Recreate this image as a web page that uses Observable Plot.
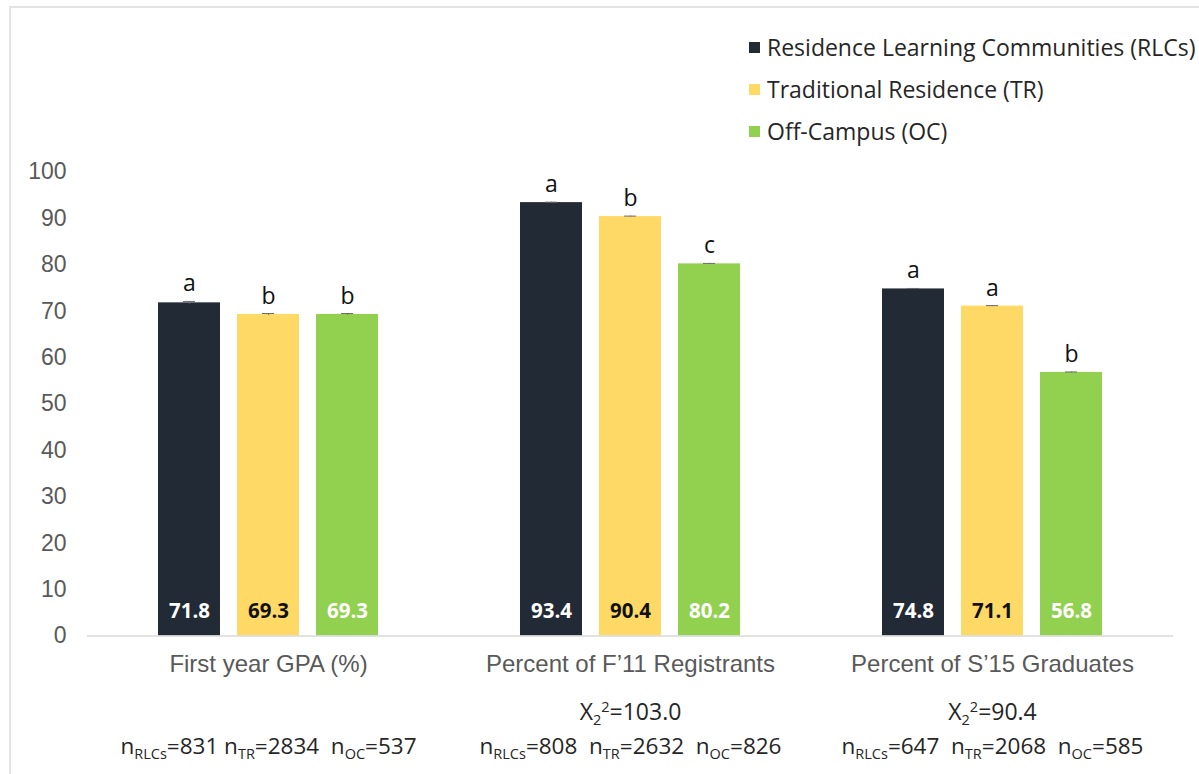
<!DOCTYPE html>
<html>
<head>
<meta charset="utf-8">
<script src="https://cdn.jsdelivr.net/npm/d3@7"></script>
<script src="https://cdn.jsdelivr.net/npm/@observablehq/plot@0.6"></script>
<style>
  html, body { margin: 0; padding: 0; background: #fff; }
  #wrap { position: relative; width: 1199px; height: 774px; overflow: hidden; background: #fff; }
  #frame { position: absolute; left: 9px; top: 6px; width: 1400px; height: 1000px;
           border-left: 2px solid #e3e3e3; border-top: 2px solid #e3e3e3; }
  #chart { position: absolute; left: 0; top: 0; }
  #legend { position: absolute; left: 749px; top: 26px; font-family: "Open Sans", sans-serif;
            font-size: 23px; color: #262626; }
  .item { display: flex; align-items: center; height: 42px; white-space: nowrap; }
  .sw { width: 11px; height: 11px; margin-right: 7px; flex: none; }
</style>
</head>
<body>
<div id="wrap">
  <div id="frame"></div>
  <div id="chart"></div>
  <div id="legend"></div>
</div>
<script>
// ---- data ----
const categories = ["First year GPA (%)", "Percent of F\u201911 Registrants", "Percent of S\u201915 Graduates"];
const series = ["Residence Learning Communities (RLCs)", "Traditional Residence (TR)", "Off-Campus (OC)"];
const seriesShort = ["RLCs", "TR", "OC"];
const colors = ["#222a35", "#ffd966", "#92d050"];

const rlcValues = [71.8, 93.4, 74.8];
const trValues  = [69.3, 90.4, 71.1];
const ocValues  = [69.3, 80.2, 56.8];

const rlcErr = [0.3, 0.1, 0.1];
const trErr  = [0.2, 0.1, 0.1];
const ocErr  = [0.2, 0.1, 0.1];

const rlcSig = ["a", "a", "a"];
const trSig  = ["b", "b", "a"];
const ocSig  = ["b", "c", "b"];

const chiSquare = [null, "103.0", "90.4"];
const nRLC = [831, 808, 647];
const nTR  = [2834, 2632, 2068];
const nOC  = [537, 826, 585];

const yTicks = [0, 10, 20, 30, 40, 50, 60, 70, 80, 90, 100];

// ---- tables ----
const valueSets = [rlcValues, trValues, ocValues];
const errSets = [rlcErr, trErr, ocErr];
const sigSets = [rlcSig, trSig, ocSig];
const rows = categories.flatMap((c, i) => series.map((s, j) => ({
  category: c, series: s, value: valueSets[j][i], err: errSets[j][i], sig: sigSets[j][i]
})));
const notes = categories.map((c, i) => ({
  category: c,
  chi: chiSquare[i] == null ? "" : `X_{2}^{2}=${chiSquare[i]}`,
  n: `n_{${seriesShort[0]}}=${nRLC[i]}${i === 0 ? " " : "  "}n_{${seriesShort[1]}}=${nTR[i]}  n_{${seriesShort[2]}}=${nOC[i]}`
}));

const openSans = "'Open Sans', sans-serif";
const arial = "'Liberation Sans', Arial, sans-serif";

const chart = Plot.plot({
  width: 1199,
  height: 774,
  marginLeft: 86,
  marginRight: 25,
  marginTop: 171.5,
  marginBottom: 138.5,
  style: { fontFamily: arial, background: "transparent", overflow: "visible" },
  fx: { domain: categories, padding: 0, label: null },
  x: { domain: series, paddingInner: 0.2125, paddingOuter: 0.87, axis: null },
  y: { domain: [0, 100], label: null },
  color: { domain: series, range: colors },
  marks: [
    Plot.axisY({ ticks: yTicks, tickSize: 0, tickPadding: 21, fontSize: 23, fill: "#595959", label: null, fontFamily: arial }),
    Plot.axisFx({ anchor: "bottom", tickSize: 0, tickPadding: 19, fontSize: 24, fill: "#595959", label: null, fontFamily: arial }),
    Plot.barY(rows, { fx: "category", x: "series", y: "value", fill: "series" }),
    Plot.ruleY([0], { stroke: "#d9d9d9", strokeWidth: 1.5 }),
    Plot.ruleX(rows, { fx: "category", x: "series", y1: d => d.value - d.err, y2: d => d.value + d.err, stroke: "#6b6b6b" }),
    Plot.tickY(rows, { fx: "category", x: "series", y: d => d.value + d.err, stroke: "#6b6b6b", insetLeft: 25, insetRight: 25 }),
    Plot.text(rows, { fx: "category", x: "series", y: d => d.value + d.err, text: "sig", lineAnchor: "bottom", dy: -10,
      fontSize: 23, fontFamily: openSans, fill: "#111" }),
    Plot.text(rows.filter(d => d.series !== series[1]), { fx: "category", x: "series", y: () => 0, text: d => d.value.toFixed(1),
      dy: -25, fontSize: 20.5, fontWeight: "bold", fontFamily: openSans, fill: "white" }),
    Plot.text(rows.filter(d => d.series === series[1]), { fx: "category", x: "series", y: () => 0, text: d => d.value.toFixed(1),
      dy: -25, fontSize: 20.5, fontWeight: "bold", fontFamily: openSans, fill: "#111" }),
    Plot.text(notes.filter(d => d.chi), { fx: "category", frameAnchor: "bottom", text: "chi", dy: 84,
      fontSize: 23, fontFamily: openSans, fill: "#262626" }),
    Plot.text(notes, { fx: "category", frameAnchor: "bottom", text: "n", dy: 118,
      fontSize: 22.5, fontFamily: openSans, fill: "#262626" })
  ]
});
document.getElementById("chart").appendChild(chart);

// rich text: _{sub} and ^{sup}
chart.querySelectorAll("text").forEach(t => {
  const s = t.textContent;
  if (!/[_^]\{/.test(s)) return;
  t.textContent = "";
  t.setAttribute("style", "white-space: pre");
  let offset = 0;
  const parts = s.split(/(_\{[^}]*\}|\^\{[^}]*\})/).filter(p => p.length);
  for (const p of parts) {
    const ts = document.createElementNS("http://www.w3.org/2000/svg", "tspan");
    let target = 0, content = p;
    if (p.startsWith("_{")) { target = 5; content = p.slice(2, -1); ts.setAttribute("font-size", "14.5"); }
    else if (p.startsWith("^{")) { target = -8; content = p.slice(2, -1); ts.setAttribute("font-size", "14.5"); }
    const d = target - offset;
    if (d !== 0) ts.setAttribute("dy", d);
    offset = target;
    ts.textContent = content;
    t.appendChild(ts);
  }
});

// legend
const legend = d3.select("#legend");
series.forEach((s, i) => {
  const item = legend.append("div").attr("class", "item");
  item.append("div").attr("class", "sw").style("background", colors[i]);
  item.append("span").text(s);
});
</script>
</body>
</html>
